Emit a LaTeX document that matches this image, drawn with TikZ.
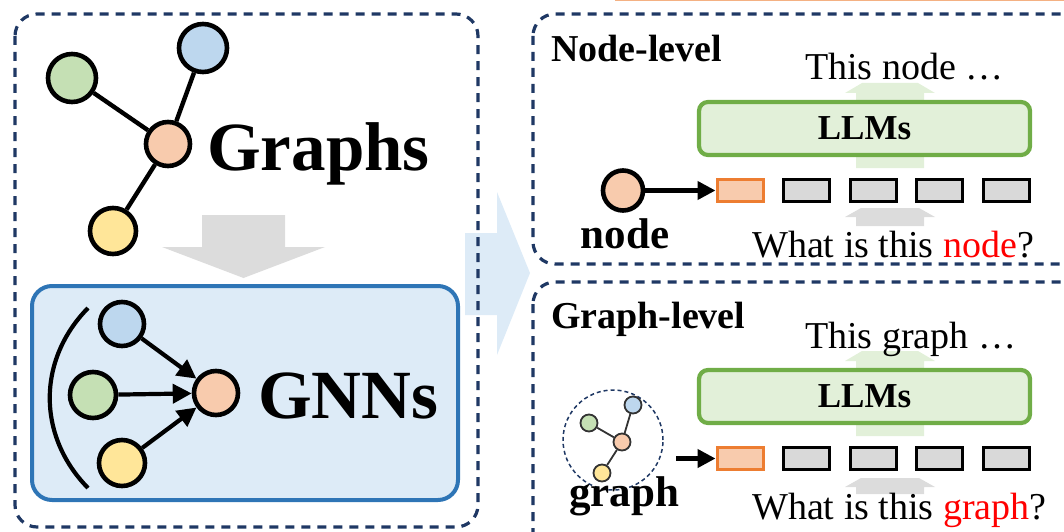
\documentclass[tikz,border=0pt]{standalone}
\usepackage{fontspec}
\setmainfont{Liberation Serif}
\usetikzlibrary{arrows.meta}

\definecolor{cgreen}{HTML}{C5E0B4}
\definecolor{cblue}{HTML}{BDD7EE}
\definecolor{corange}{HTML}{F8CBAD}
\definecolor{cyellow}{HTML}{FFE699}
\definecolor{navy}{HTML}{1F3864}
\definecolor{gnnline}{HTML}{2E75B6}
\definecolor{gnnfill}{HTML}{DDEBF7}
\definecolor{llmline}{HTML}{70AD47}
\definecolor{llmfill}{HTML}{E2F0D9}
\definecolor{tokgray}{HTML}{D9D9D9}
\definecolor{tokorange}{HTML}{ED7D31}
\definecolor{greyflow}{HTML}{DCDCDC}
\definecolor{flowblue}{HTML}{DDEBF7}
\definecolor{topline}{HTML}{F4B183}

\begin{document}
\begin{tikzpicture}[x=1pt,y=-1pt,
  vtx/.style={circle, draw=black, line width=4.6pt, minimum size=#1, inner sep=0},
  minivtx/.style={circle, draw=black!80, line width=1.8pt, minimum size=17, inner sep=0},
  dashbox/.style={draw=navy, line width=3.2pt, dash pattern=on 9pt off 7pt, rounded corners=22},
  link/.style={line width=4.4pt, draw=black},
  gnnarrow/.style={line width=4.2pt, draw=black, -{Triangle[length=19pt,width=19pt]}},
  feed/.style={line width=4.2pt, draw=black, -{Triangle[length=18pt,width=18pt]}},
  tok/.style={draw=black, fill=tokgray, line width=3pt, minimum width=46, minimum height=22, inner sep=0},
  tokhead/.style={draw=tokorange, fill=corange, line width=3pt, minimum width=46, minimum height=22, inner sep=0},
  llmbox/.style={draw=llmline, fill=llmfill, line width=4.2pt, rounded corners=9, minimum width=331, minimum height=53, inner sep=0, font=\bfseries\fontsize{35}{35}\selectfont},
  bigtitle/.style={anchor=base west, inner sep=0, font=\bfseries\fontsize{69}{69}\selectfont},
  level/.style={anchor=base west, inner sep=0, font=\bfseries\fontsize{38}{38}\selectfont},
  plain/.style={anchor=base west, inner sep=0, font=\fontsize{38}{38}\selectfont},
  tag/.style={anchor=base, inner sep=0, font=\bfseries\fontsize{43}{43}\selectfont}
]
\useasboundingbox (0,0) rectangle (1064,532);

% thin rule along the top edge
\draw[topline, line width=2pt] (615,0.5) -- (1064,0.5);

% flow arrow between the two halves
\fill[flowblue] (465,233) -- (497,233) -- (497,192) -- (530,273) -- (497,355) -- (497,315) -- (465,315) -- cycle;

% ---------------- left panel ----------------
\draw[dashbox] (15,14) rectangle (478,527);

\node[vtx=48, fill=cgreen] (g1) at (72,78) {};
\node[vtx=48, fill=cblue] (b1) at (203,48) {};
\node[vtx=44, fill=corange] (o1) at (168,144) {};
\node[vtx=46, fill=cyellow] (y1) at (113,231) {};
\draw[link] (g1) -- (o1);
\draw[link] (b1) -- (o1);
\draw[link] (y1) -- (o1);
\node[bigtitle] (graphs) at (207,170) {Graphs};

% downward arrow
\fill[greyflow] (202,215) -- (285,215) -- (285,247) -- (325,247) -- (243.5,278) -- (162,247) -- (202,247) -- cycle;

% GNN block
\draw[line width=4pt, draw=gnnline, fill=gnnfill, rounded corners=20] (32,286) rectangle (458,500);
\draw[line width=4.2pt] (88,308) .. controls (37,360) and (37,436) .. (88,488);
\node[vtx=44, fill=cblue] (b2) at (122,324) {};
\node[vtx=46, fill=cgreen] (g2) at (93,395) {};
\node[vtx=46, fill=cyellow] (y2) at (122,463) {};
\node[vtx=44, fill=corange] (o2) at (216,393) {};
\draw[gnnarrow] (b2) -- (o2);
\draw[gnnarrow] (g2) -- (o2);
\draw[gnnarrow] (y2) -- (o2);
\node[bigtitle] (gnns) at (258,418) {GNNs};

% ---------------- node-level task ----------------
\draw[dashbox] (533,14) rectangle (1100,264);
\node[level] (nlvl) at (551,62) {Node-level};

\fill[llmfill] (856,168) -- (856,93) -- (845,93) -- (862,83) -- (918,83) -- (935,93) -- (924,93) -- (924,168) -- cycle;
\fill[greyflow] (856,226) -- (856,217) -- (845,217) -- (861,208) -- (919,208) -- (935,217) -- (924,217) -- (924,226) -- cycle;

\node[plain] (nout) at (805,80) {This node …};
\node[llmbox] (llm1) at (864.5,128.5) {LLMs};

\node[tokhead] (n0) at (740,190.5) {};
\node[tok] (n1) at (806.5,190.5) {};
\node[tok] (n2) at (873,190.5) {};
\node[tok] (n3) at (939.5,190.5) {};
\node[tok] (n4) at (1006,190.5) {};

\node[vtx=40, fill=corange] (nd) at (623,190.5) {};
\draw[feed] (nd) -- (n0);
\node[tag] (ndlbl) at (625,248) {node};

\node[plain] (nq) at (752,257) {What is this \textcolor{red}{node}?};

% ---------------- graph-level task ----------------
\draw[dashbox] (533,282) rectangle (1100,580);
\node[level] (glvl) at (551,328) {Graph-level};

\fill[llmfill] (856,436) -- (856,361) -- (845,361) -- (862,351) -- (918,351) -- (935,361) -- (924,361) -- (924,436) -- cycle;
\fill[greyflow] (856,494) -- (856,487) -- (845,487) -- (861,478) -- (919,478) -- (935,487) -- (924,487) -- (924,494) -- cycle;

\node[plain] (gout) at (805,348) {This graph …};
\node[llmbox] (llm2) at (864.5,396.5) {LLMs};

\node[tokhead] (t0) at (740,458.5) {};
\node[tok] (t1) at (806.5,458.5) {};
\node[tok] (t2) at (873,458.5) {};
\node[tok] (t3) at (939.5,458.5) {};
\node[tok] (t4) at (1006,458.5) {};

% small graph inside a dashed ring
\node[circle, draw=navy, line width=1.5pt, dash pattern=on 4pt off 3pt, minimum size=100, inner sep=0] (ring) at (613,440) {};
\node[minivtx, fill=cgreen] (mg) at (589,423) {};
\node[minivtx, fill=cblue] (mb) at (633,405) {};
\node[minivtx, fill=corange] (mo) at (622,442) {};
\node[minivtx, fill=cyellow] (my) at (602,473) {};
\draw[line width=1.8pt, black!80] (mg) -- (mo);
\draw[line width=1.8pt, black!80] (mb) -- (mo);
\draw[line width=1.8pt, black!80] (my) -- (mo);
\coordinate (gfrom) at (676,458.5);
\draw[feed] (gfrom) -- (t0);
\node[tag] (gplbl) at (624,506) {graph};

\node[plain] (gq) at (752,519) {What is this \textcolor{red}{graph}?};
\end{tikzpicture}
\end{document}
